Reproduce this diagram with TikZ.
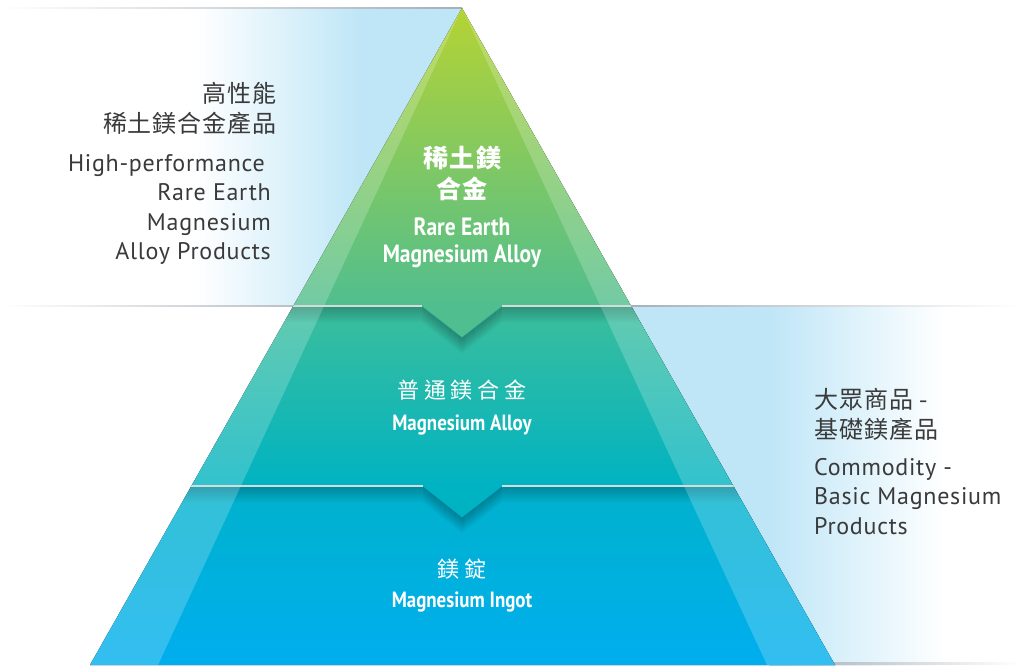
\documentclass[tikz,border=0pt]{standalone}
\usepackage{fontspec}
\newfontfamily\cjk[LetterSpace=4]{Noto Sans CJK TC}
\newfontfamily\cjkt[LetterSpace=6]{Noto Sans CJK TC}
\newfontfamily\cjks[LetterSpace=22]{Noto Sans CJK TC}
\newfontfamily\din[LetterSpace=3]{PT Sans}
\newfontfamily\dinc[FakeStretch=0.86]{PT Sans}
\definecolor{panelblue}{HTML}{BFE6F7}
\definecolor{txtgray}{HTML}{3A3A3A}
\definecolor{lngray}{HTML}{A6AEB6}
\definecolor{divl}{HTML}{D2DCD9}
\definecolor{gA}{HTML}{B5D334}
\definecolor{gB}{HTML}{8CC75C}
\definecolor{gC}{HTML}{50BE8E}
\definecolor{tA}{HTML}{3CBE9C}
\definecolor{tB}{HTML}{0DB8AE}
\definecolor{tC}{HTML}{00B3C2}
\definecolor{bA}{HTML}{00B2CC}
\definecolor{bB}{HTML}{00B0DC}
\definecolor{bC}{HTML}{00AEEF}
\tikzset{
  cjkgray/.style={inner sep=0pt, text=txtgray, font=\cjk\fontsize{24}{24}\selectfont},
  engray/.style={inner sep=0pt, text=txtgray, font=\din\fontsize{24}{24}\selectfont},
  cjkwhite/.style={inner sep=0pt, text=white, font=\cjkt\bfseries\fontsize{25}{25}\selectfont},
  enwhite/.style={inner sep=0pt, text=white, font=\dinc\bfseries\fontsize{25}{25}\selectfont},
  cjkwsmall/.style={inner sep=0pt, text=white, font=\cjks\fontsize{22}{22}\selectfont},
  enwsmall/.style={inner sep=0pt, text=white, font=\dinc\bfseries\fontsize{22}{22}\selectfont},
  divline/.style={draw=divl, line width=1.4pt},
}
\begin{document}
\begin{tikzpicture}[x=1pt,y=-1pt]
\useasboundingbox (0,0) rectangle (1020,665);
\fill[white] (0,0) rectangle (1020,665);
% background panels
\fill[left color=white, right color=panelblue] (195,8) rectangle (360,306);
\fill[panelblue] (359,8) rectangle (462,306);
\fill[panelblue] (600,306) rectangle (771,665);
\fill[left color=panelblue, right color=white] (770,306) rectangle (945,665);
% outside lines
\fill[left color=white, right color=lngray] (0,7.2) rectangle (462,8.8);
\fill[left color=white, right color=lngray!80] (0,305.2) rectangle (300,306.8);
\fill[left color=lngray, right color=white] (620,305.2) rectangle (1020,306.8);
\fill[left color=lngray!80, right color=white] (830,662.6) rectangle (1020,664.2);
% pyramid
\coordinate (A) at (462,8);
\coordinate (OL) at (90,665);
\coordinate (OR) at (835,665);
\coordinate (IL) at (158,665);
\coordinate (IR) at (767,665);
\begin{scope}
\clip (A) -- (OL) -- (OR) -- cycle;
\fill[top color=gA, middle color=gB, bottom color=gC] (80,8) rectangle (850,306);
\fill[top color=tA, middle color=tB, bottom color=tC] (80,306) rectangle (850,486);
\fill[top color=bA, middle color=bB, bottom color=bC] (80,486) rectangle (850,666);
% chevrons
\fill[gC] (422,305) -- (462,337) -- (502,305) -- cycle;
\fill[tC] (423,485) -- (462,517) -- (502,485) -- cycle;
% shadows
\foreach \k [evaluate=\k as \op using {0.2*(1-\k/17)}] in {1,...,16}{
  \draw[black, opacity=\op, line width=1.05pt] (80,306+\k) -- (422,306+\k) -- (462,337+\k) -- (502,306+\k) -- (850,306+\k);
  \draw[black, opacity=\op, line width=1.05pt] (80,486+\k) -- (423,486+\k) -- (462,517+\k) -- (502,486+\k) -- (850,486+\k);
}
% lighter outer band
\fill[white, opacity=0.2, even odd rule] (A) -- (OL) -- (OR) -- cycle (A) -- (IL) -- (IR) -- cycle;
% divider lines
\draw[divline] (80,306) -- (422,306);
\draw[divline] (502,306) -- (850,306);
\draw[divline] (80,486) -- (423,486);
\draw[divline] (502,486) -- (850,486);
\end{scope}
% left texts
\node[cjkgray, anchor=east] (l1) at (277,93) {高性能};
\node[cjkgray, anchor=east] (l2) at (277,123) {稀土鎂合金產品};
\node[engray, anchor=base east] (l3) at (265,171) {High-performance};
\node[engray, anchor=base east] (l4) at (271,200) {Rare Earth};
\node[engray, anchor=base east] (l5) at (271,230) {Magnesium};
\node[engray, anchor=base east] (l6) at (271,259) {Alloy Products};
% right texts
\node[cjkgray, anchor=west] (r1) at (814,399) {大眾商品 -};
\node[cjkgray, anchor=west] (r2) at (814,429) {基礎鎂產品};
\node[engray, anchor=base west] (r3) at (814,475) {Commodity -};
\node[engray, anchor=base west] (r4) at (814,504) {Basic Magnesium};
\node[engray, anchor=base west] (r5) at (814,534) {Products};
% pyramid texts
\node[cjkwhite] (t1) at (462,158) {稀土鎂};
\node[cjkwhite] (t2) at (462,189) {合金};
\node[enwhite, anchor=base] (t3) at (462,235) {Rare Earth};
\node[enwhite, anchor=base] (t4) at (462,262) {Magnesium Alloy};
\node[cjkwsmall] (m1) at (462,390) {普通鎂合金};
\node[enwsmall, anchor=base] (m2) at (462,430) {Magnesium Alloy};
\node[cjkwsmall] (b1) at (462,569) {鎂錠};
\node[enwsmall, anchor=base] (b2) at (462,607) {Magnesium Ingot};
\end{tikzpicture}
\end{document}
